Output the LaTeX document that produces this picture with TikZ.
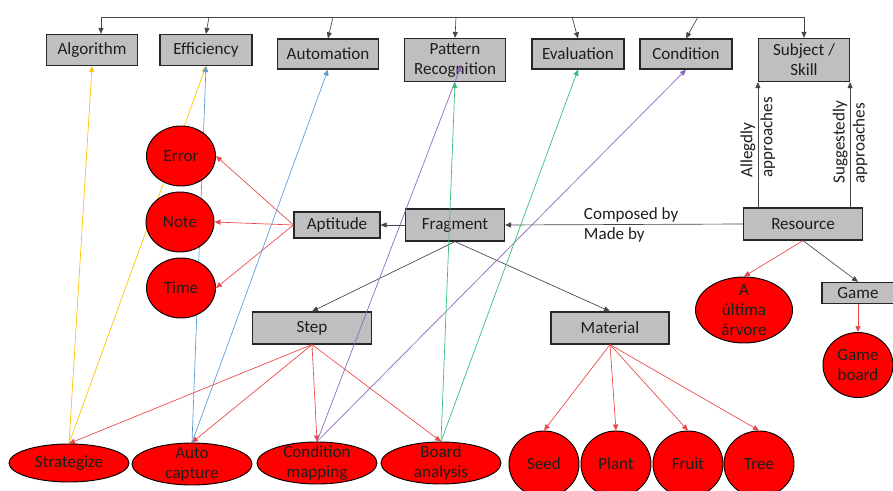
\documentclass[tikz,border=0pt]{standalone}
\usepackage{fontspec}
\setmainfont{Carlito}
\usetikzlibrary{shapes.geometric,arrows.meta}
\definecolor{boxgray}{RGB}{191,191,191}
\definecolor{linkgray}{RGB}{70,70,70}
\definecolor{linkred}{RGB}{235,70,70}
\definecolor{linkyellow}{RGB}{255,192,0}
\definecolor{linkblue}{RGB}{91,155,213}
\definecolor{linkpurple}{RGB}{140,100,190}
\definecolor{linkgreen}{RGB}{50,190,120}
\definecolor{inktext}{RGB}{30,30,30}
\pgfdeclarelayer{front}
\pgfsetlayers{main,front}

\begin{document}
\begin{tikzpicture}[x=0.75pt,y=-0.75pt,
  every node/.style={font=\fontsize{12.8}{15}\selectfont,text=inktext},
  wh/.style 2 args={minimum width=#1*0.75pt,minimum height=#2*0.75pt},
  box/.style={draw=black!85,line width=0.9pt,fill=boxgray,inner sep=1pt,align=center},
  blob/.style={ellipse,draw=black,line width=0.7pt,fill=red,inner sep=0pt},
  link/.style={linkgray,line width=0.5pt,-{Triangle[length=4.5pt,width=3.8pt]}},
  redlink/.style={link,linkred},
  colink/.style={link,#1}]
  \useasboundingbox (0,0) rectangle (893,491);
  % boxes
  \node[box,wh={91}{31}] (alg) at (92,50) {Algorithm};
  \node[box,wh={92}{31}] (eff) at (206,50) {Efficiency};
  \node[box,wh={101}{30}] (auto) at (328,54) {Automation};
  \node[box,wh={101}{43}] (pat) at (455,60) {Pattern\\Recognition};
  \node[box,wh={92}{30}] (eval) at (578,54) {Evaluation};
  \node[box,wh={92}{30}] (cond) at (686,54) {Condition};
  \node[box,wh={91}{43}] (subj) at (804,60) {Subject /\\Skill};
  \node[box,wh={119}{32}] (res) at (803,224) {Resource};
  \node[box,wh={99}{32}] (frag) at (455,225) {Fragment};
  \node[box,wh={86}{26}] (apt) at (337,225) {Aptitude};
  \node[box,wh={119}{32}] (step) at (312,328) {Step};
  \node[box,wh={118}{32}] (mat) at (610,328) {Material};
  \node[box,wh={72}{21}] (game) at (858,293) {Game};
  % ellipses
  \begin{pgfonlayer}{front}
  \node[blob,wh={69}{60},label=center:Error] (err) at (181,156) {};
  \node[blob,wh={68}{60},label=center:Note] (note) at (180,222) {};
  \node[blob,wh={69}{60},label=center:Time] (time) at (181,288) {};
  \node[blob,wh={97}{66},label={[align=center]center:A\\última\\árvore}] (arv) at (744,310) {};
  \node[blob,wh={70}{65},label={[align=center]center:Game\\board}] (gboard) at (858,365) {};
  \node[blob,wh={120}{38},label=center:Strategize] (strat) at (69,463) {};
  \node[blob,wh={120}{42},label={[align=center]center:Auto\\capture}] (acap) at (192,464) {};
  \node[blob,wh={120}{42},label={[align=center]center:Condition\\mapping}] (cmap) at (317,463) {};
  \node[blob,wh={120}{42},label={[align=center]center:Board\\analysis}] (board) at (441,463) {};
  \node[blob,wh={70}{66},label=center:Seed] (seed) at (544,464) {};
  \node[blob,wh={70}{66},label=center:Plant] (plant) at (616,464) {};
  \node[blob,wh={70}{66},label=center:Fruit] (fruit) at (688,464) {};
  \node[blob,wh={70}{66},label=center:Tree] (tree) at (759,464) {};
  \end{pgfonlayer}
  % top bus
  \coordinate (busL) at (101,17);
  \coordinate (busR) at (804,17);
  \coordinate (b-eff) at (209,17);
  \coordinate (b-auto) at (333,17);
  \coordinate (b-pat) at (456,17);
  \coordinate (b-eval) at (572,17);
  \coordinate (b-cond) at (698,17);
  \draw[linkgray,line width=0.5pt] (busL) -- (busR);
  \draw[link] (busL) -- (busL |- alg.north);
  \draw[link] (b-eff) -- (eff.north);
  \draw[link] (b-auto) -- (auto.north);
  \draw[link] (b-pat) -- (pat.north);
  \draw[link] (b-eval) -- (eval.north);
  \draw[link] (b-cond) -- (cond.north);
  \draw[link] (busR) -- (subj.north);
  % gray links
  \draw[link] (subj.south west |- res.north) -- node[rotate=90,align=left,pos=0.56,text=inktext] {Allegdly\\approaches} (subj.south west);
  \draw[link] (subj.south east |- res.north) -- node[rotate=90,align=left,pos=0.52,text=inktext] {Suggestedly\\approaches} (subj.south east);
  \draw[link] (res.west) -- node[align=left,pos=0.47,text=inktext] {Composed by\\Made by} (frag.east);
  \draw[link] (frag.west) -- (apt.east);
  \draw[link] (frag.south) -- (step.north);
  \draw[link] (frag.south) -- (mat.north);
  \draw[link] (res.south) -- (game.north);
  % red links
  \draw[redlink] (res.south) -- (arv.north);
  \draw[redlink] (game.south) -- (gboard.north);
  \draw[redlink] (apt.west) -- (err.east);
  \draw[redlink] (apt.west) -- (note.east);
  \draw[redlink] (apt.west) -- (time.east);
  \draw[redlink] (step.south) -- (strat.north);
  \draw[redlink] (step.south) -- (acap.north);
  \draw[redlink] (step.south) -- (cmap.north);
  \draw[redlink] (step.south) -- (board.north);
  \draw[redlink] (mat.south) -- (seed.north);
  \draw[redlink] (mat.south) -- (plant.north);
  \draw[redlink] (mat.south) -- (fruit.north);
  \draw[redlink] (mat.south) -- (tree.north);
  % coloured links
  \coordinate (pat-in) at (461,66);
  \draw[colink=linkyellow] (strat.north) -- (alg.south);
  \draw[colink=linkyellow] (strat.north) -- (eff.south);
  \draw[colink=linkblue] (acap.north) -- (eff.south);
  \draw[colink=linkblue] (acap.north) -- (auto.south);
  \draw[colink=linkpurple] (cmap.north) -- (pat-in);
  \draw[colink=linkpurple] (cmap.north) -- (cond.south);
  \draw[colink=linkgreen] (board.north) -- (pat.south);
  \draw[colink=linkgreen] (board.north) -- (eval.south);
\end{tikzpicture}
\end{document}
